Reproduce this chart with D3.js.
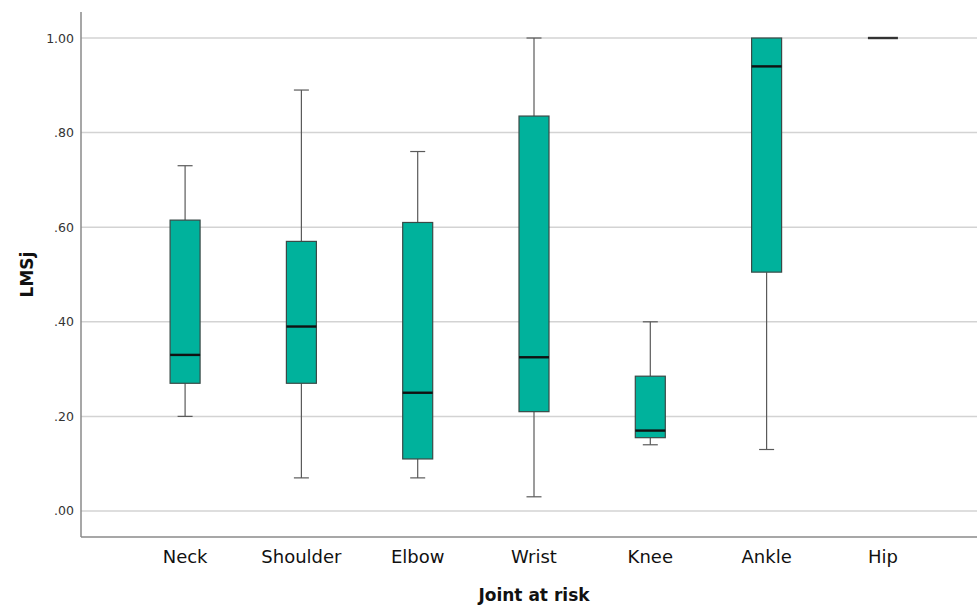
<!DOCTYPE html>
<html>
<head>
<meta charset="utf-8">
<script src="https://cdnjs.cloudflare.com/ajax/libs/d3/7.8.5/d3.min.js"></script>
<style>
  html, body { margin: 0; padding: 0; background: #ffffff; }
  svg { display: block; }
</style>
</head>
<body>
<svg id="chart" width="977" height="607"></svg>
<script>
// Box plot of LMSj per joint at risk
const categories = ["Neck", "Shoulder", "Elbow", "Wrist", "Knee", "Ankle", "Hip"];
const maxVals    = [0.73, 0.89, 0.76, 1.00, 0.40, 1.00, 1.00];
const q3Vals     = [0.615, 0.57, 0.61, 0.835, 0.285, 1.00, 1.00];
const medianVals = [0.33, 0.39, 0.25, 0.325, 0.17, 0.94, 1.00];
const q1Vals     = [0.27, 0.27, 0.11, 0.21, 0.155, 0.505, 1.00];
const minVals    = [0.20, 0.07, 0.07, 0.03, 0.14, 0.13, 1.00];
const yTicks     = [0, 0.2, 0.4, 0.6, 0.8, 1.0];
const yTickLabels = [".00", ".20", ".40", ".60", ".80", "1.00"];

const boxes = categories.map((c, i) => ({
  cat: c, max: maxVals[i], q3: q3Vals[i], med: medianVals[i], q1: q1Vals[i], min: minVals[i]
}));

const svg = d3.select("#chart");
const W = 977, H = 607;
const margin = { left: 81, top: 12, bottom: 70 };
const plotRight = 987;   // plot frame runs past the visible edge

const x = d3.scaleBand()
  .domain(categories)
  .range([margin.left, plotRight])
  .paddingInner(0)
  .paddingOuter(0.395);

const y = d3.scaleLinear()
  .domain([-0.055, 1.055])
  .range([H - margin.bottom, margin.top]);

const boxW = 30, capW = 15;
const cx = d => x(d) + x.bandwidth() / 2;

// gridlines
svg.append("g")
  .selectAll("line")
  .data(yTicks)
  .join("line")
  .attr("x1", margin.left).attr("x2", W)
  .attr("y1", d => y(d)).attr("y2", d => y(d))
  .attr("stroke", "#d3d3d3").attr("stroke-width", 1.5);

// y axis
const yAxis = d3.axisLeft(y)
  .tickValues(yTicks)
  .tickFormat((d, i) => yTickLabels[i])
  .tickSize(0)
  .tickPadding(7);
const gy = svg.append("g").attr("transform", `translate(${margin.left},0)`).call(yAxis);
gy.select(".domain").remove();
gy.selectAll("text")
  .attr("font-family", "DejaVu Sans, sans-serif")
  .attr("font-size", 12.5)
  .attr("fill", "#333");

// x axis
const xAxis = d3.axisBottom(x).tickSize(0).tickPadding(13);
const gx = svg.append("g").attr("transform", `translate(0,${H - margin.bottom})`).call(xAxis);
gx.select(".domain").remove();
gx.selectAll("text")
  .attr("font-family", "DejaVu Sans, sans-serif")
  .attr("font-size", 18)
  .attr("fill", "#111");

// frame lines (left and bottom)
svg.append("line")
  .attr("x1", margin.left).attr("x2", margin.left)
  .attr("y1", margin.top).attr("y2", H - margin.bottom)
  .attr("stroke", "#8a8a8a").attr("stroke-width", 1.5);
svg.append("line")
  .attr("x1", margin.left).attr("x2", W)
  .attr("y1", H - margin.bottom).attr("y2", H - margin.bottom)
  .attr("stroke", "#8a8a8a").attr("stroke-width", 1.5);

// whiskers
const g = svg.append("g");
const whiskerColor = "#5a5a5a";
boxes.forEach(b => {
  const c = cx(b.cat);
  const segs = [[b.q3, b.max], [b.q1, b.min]];
  segs.forEach(([from, to]) => {
    if (to === from) return;
    g.append("line")
      .attr("x1", c).attr("x2", c)
      .attr("y1", y(from)).attr("y2", y(to))
      .attr("stroke", whiskerColor).attr("stroke-width", 1.2);
    g.append("line")
      .attr("x1", c - capW / 2).attr("x2", c + capW / 2)
      .attr("y1", y(to)).attr("y2", y(to))
      .attr("stroke", whiskerColor).attr("stroke-width", 1.2);
  });
});

// boxes
g.selectAll("rect.box")
  .data(boxes.filter(b => b.q3 > b.q1))
  .join("rect")
  .attr("class", "box")
  .attr("x", d => cx(d.cat) - boxW / 2)
  .attr("width", boxW)
  .attr("y", d => y(d.q3))
  .attr("height", d => y(d.q1) - y(d.q3))
  .attr("fill", "#00b29c")
  .attr("stroke", "#3a4a47")
  .attr("stroke-width", 1.2);

// medians
g.selectAll("line.median")
  .data(boxes)
  .join("line")
  .attr("class", "median")
  .attr("x1", d => cx(d.cat) - boxW / 2)
  .attr("x2", d => cx(d.cat) + boxW / 2)
  .attr("y1", d => y(d.med)).attr("y2", d => y(d.med))
  .attr("stroke", d => d.q3 > d.q1 ? "#111" : "#333")
  .attr("stroke-width", 2.4);

// axis titles
svg.append("text")
  .attr("x", (margin.left + plotRight) / 2)
  .attr("y", 601)
  .attr("text-anchor", "middle")
  .attr("font-family", "DejaVu Sans, sans-serif")
  .attr("font-weight", "bold")
  .attr("font-size", 17)
  .attr("fill", "#111")
  .text("Joint at risk");

svg.append("text")
  .attr("transform", `translate(33,${(margin.top + H - margin.bottom) / 2}) rotate(-90)`)
  .attr("text-anchor", "middle")
  .attr("font-family", "DejaVu Sans, sans-serif")
  .attr("font-weight", "bold")
  .attr("font-size", 17)
  .attr("fill", "#111")
  .text("LMSj");
</script>
</body>
</html>
